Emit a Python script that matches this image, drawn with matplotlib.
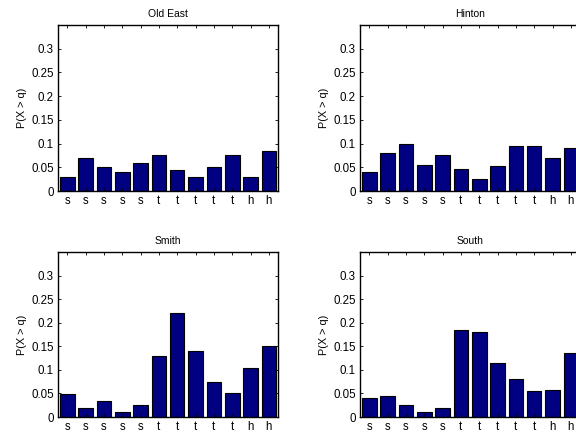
import matplotlib
matplotlib.use("Agg")
import matplotlib.pyplot as plt
import numpy as np

plt.rcParams['font.family'] = ['Liberation Sans', 'DejaVu Sans']

titles = ["Old East", "Hinton", "Smith", "South"]
categories = ["s", "s", "s", "s", "s", "t", "t", "t", "t", "t", "h", "h"]
old_east = [0.03, 0.07, 0.05, 0.04, 0.06, 0.075, 0.045, 0.03, 0.05, 0.075, 0.03, 0.085]
hinton = [0.04, 0.08, 0.10, 0.054, 0.075, 0.046, 0.025, 0.052, 0.095, 0.095, 0.07, 0.09]
smith = [0.048, 0.02, 0.035, 0.01, 0.025, 0.13, 0.22, 0.14, 0.075, 0.05, 0.104, 0.15]
south = [0.041, 0.045, 0.025, 0.01, 0.02, 0.185, 0.181, 0.115, 0.08, 0.055, 0.057, 0.135]
series = [old_east, hinton, smith, south]
yticks = [0, 0.05, 0.1, 0.15, 0.2, 0.25, 0.3]
ytick_labels = ["0", "0.05", "0.1", "0.15", "0.2", "0.25", "0.3"]

fig = plt.figure(figsize=(5.76, 4.33), dpi=100)
W, H = 576, 433
rects = [(58, 25, 220, 166), (360, 25, 220, 166),
         (58, 252, 220, 165), (360, 252, 220, 165)]

fs = 8.3
for (x0, y0, w, h), title, vals in zip(rects, titles, series):
    ax = fig.add_axes([x0 / W, (H - y0 - h) / H, w / W, h / H])
    x = np.arange(1, len(vals) + 1)
    ax.bar(x, vals, width=0.8, color='#000080', edgecolor='black', linewidth=0.8)
    ax.set_xlim(0.5, 12.5)
    ax.set_ylim(0, 0.35)
    ax.set_xticks(x)
    ax.set_xticklabels(categories, fontsize=fs)
    ax.set_yticks(yticks)
    ax.set_yticklabels(ytick_labels, fontsize=fs)
    ax.tick_params(direction='in', top=True, right=True, length=2.5, width=0.6, pad=3)
    for s in ax.spines.values():
        s.set_linewidth(1.0)
    ax.set_title(title, fontsize=7.5, pad=6)
    ax.set_ylabel("P(X > q)", fontsize=7.8, labelpad=3)

fig.savefig("out.png", dpi=100)
